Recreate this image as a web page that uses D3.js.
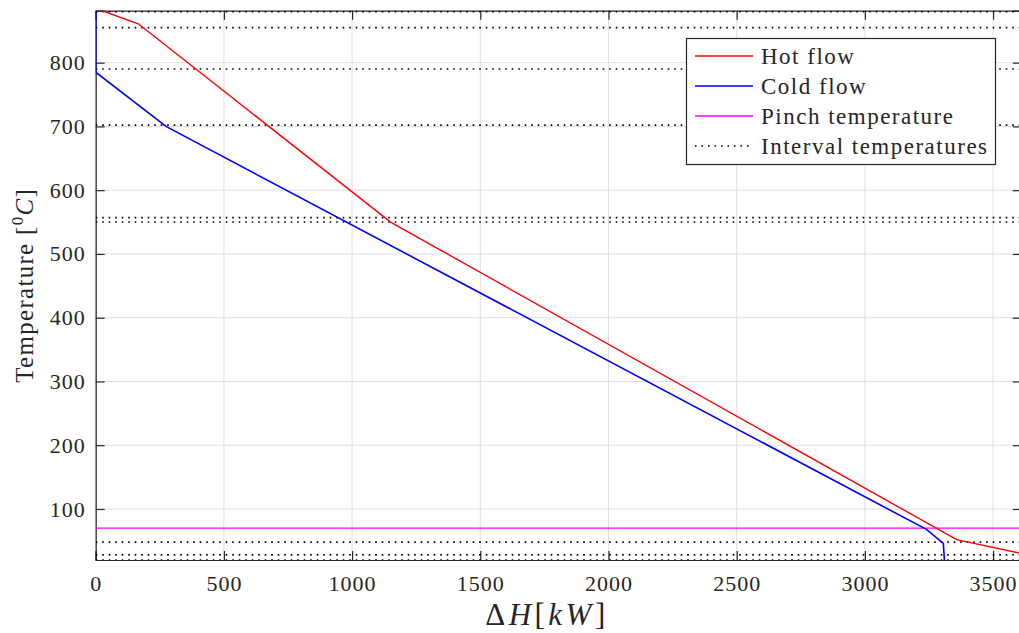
<!DOCTYPE html>
<html>
<head>
<meta charset="utf-8">
<script src="https://cdn.jsdelivr.net/npm/d3@7"></script>
<style>
  html, body { margin: 0; padding: 0; background: #fff; }
  svg { display: block; }
  text { font-family: "Liberation Serif", "DejaVu Serif", serif; fill: #262626; }
</style>
</head>
<body>
<svg id="chart" width="1019" height="633"></svg>
<script>
// Composite curves: enthalpy change ΔH [kW] vs temperature [°C]
const hotH   = [0, 166, 1150, 3358, 3612];
const hotT   = [885, 861, 550, 52, 30];
const coldH  = [0, 0, 274, 3240, 3306, 3310];
const coldT  = [880, 785, 700, 68, 46, 20];
const pinchT = 70;
const intervalT = [880, 855, 790, 702, 557, 550, 48, 28, 20];
const xTicks = [0, 500, 1000, 1500, 2000, 2500, 3000, 3500];
const yTicks = [100, 200, 300, 400, 500, 600, 700, 800];
const xDomain = [0, 3612];
const yDomain = [20, 881.5];
const legendLabels = ["Hot flow", "Cold flow", "Pinch temperature", "Interval temperatures"];

const svg = d3.select("#chart");
const L = 95.7, R = 1021.8, T = 10.7, B = 560;

const x = d3.scaleLinear().domain(xDomain).range([L, R]);
const y = d3.scaleLinear().domain(yDomain).range([B, T]);

const axisColor = "#262626";
const gridColor = "#dfdfdf";
const tickLen = 9;
const fontFam = '"Liberation Serif", "DejaVu Serif", serif';

svg.append("defs").append("clipPath").attr("id", "plotClip")
  .append("rect").attr("x", L).attr("y", T).attr("width", R - L).attr("height", B - T);

// grid
const grid = svg.append("g");
grid.selectAll("line.gx").data(xTicks).join("line")
  .attr("x1", d => x(d)).attr("x2", d => x(d)).attr("y1", T).attr("y2", B)
  .attr("stroke", gridColor).attr("stroke-width", 1);
grid.selectAll("line.gy").data(yTicks).join("line")
  .attr("y1", d => y(d)).attr("y2", d => y(d)).attr("x1", L).attr("x2", R)
  .attr("stroke", gridColor).attr("stroke-width", 1);

// axes box and inward ticks
const bottomAxis = d3.axisBottom(x).tickValues(xTicks).tickSize(-tickLen).tickPadding(tickLen + 6).tickFormat(d3.format("d"));
const topAxis = d3.axisTop(x).tickValues(xTicks).tickSize(-tickLen).tickFormat("");
const leftAxis = d3.axisLeft(y).tickValues(yTicks).tickSize(-tickLen).tickPadding(tickLen + 1).tickFormat(d3.format("d"));
const rightAxis = d3.axisRight(y).tickValues(yTicks).tickSize(-tickLen).tickFormat("");

function styleAxis(g) {
  g.attr("font-family", null).attr("font-size", null);
  g.select(".domain").attr("stroke", axisColor).attr("stroke-width", 1.2);
  g.selectAll(".tick line").attr("stroke", axisColor).attr("stroke-width", 1.2);
  g.selectAll(".tick text").attr("fill", "#262626").style("font-size", "22px")
    .style("letter-spacing", "1px").style("font-family", fontFam);
}
svg.append("g").attr("transform", `translate(0,${B})`).call(bottomAxis).call(styleAxis);
svg.append("g").attr("transform", `translate(0,${T})`).call(topAxis).call(styleAxis);
svg.append("g").attr("transform", `translate(${L},0)`).call(leftAxis).call(styleAxis);
svg.append("g").attr("transform", `translate(${R},0)`).call(rightAxis).call(styleAxis);

const plot = svg.append("g").attr("clip-path", "url(#plotClip)");

// interval temperatures
plot.selectAll("line.interval").data(intervalT).join("line")
  .attr("x1", L).attr("x2", R).attr("y1", d => y(d)).attr("y2", d => y(d))
  .attr("stroke", "#000").attr("stroke-width", 1.6).attr("stroke-dasharray", "1.6 4.9");

// pinch
plot.append("line").attr("x1", L).attr("x2", R).attr("y1", y(pinchT)).attr("y2", y(pinchT))
  .attr("stroke", "#ff00ff").attr("stroke-width", 1.4);

const line = d3.line().x(d => x(d[0])).y(d => y(d[1]));
plot.append("path").datum(d3.zip(hotH, hotT)).attr("d", line)
  .attr("fill", "none").attr("stroke", "#ff0000").attr("stroke-width", 1.4);
plot.append("path").datum(d3.zip(coldH, coldT)).attr("d", line)
  .attr("fill", "none").attr("stroke", "#0000ff").attr("stroke-width", 1.6);

// axis labels
const xl = svg.append("text").attr("x", 547).attr("y", 625).attr("text-anchor", "middle")
  .style("font-size", "31px").style("letter-spacing", "3.5px");
xl.append("tspan").text("Δ");
xl.append("tspan").attr("font-style", "italic").text("H");
xl.append("tspan").text("[");
xl.append("tspan").attr("font-style", "italic").text("kW");
xl.append("tspan").text("]");

const yl = svg.append("text").attr("transform", `translate(33,${(T + B) / 2}) rotate(-90)`)
  .attr("text-anchor", "middle").style("font-size", "25px").style("letter-spacing", "1.3px");
yl.append("tspan").text("Temperature [");
yl.append("tspan").attr("dy", -10).style("font-size", "17px").text("0");
yl.append("tspan").attr("dy", 10).attr("font-style", "italic").text("C");
yl.append("tspan").text("]");

// legend
const lg = svg.append("g");
lg.append("rect").attr("x", 686.5).attr("y", 38.5).attr("width", 309).attr("height", 126)
  .attr("fill", "#fff").attr("stroke", axisColor).attr("stroke-width", 1.2);
const legendStyles = [
  { color: "#ff0000", dash: null },
  { color: "#0000ff", dash: null },
  { color: "#ff00ff", dash: null },
  { color: "#000000", dash: "1.6 4.9" }
];
legendLabels.forEach((lab, i) => {
  const cy = 56 + i * 30;
  lg.append("line").attr("x1", 695).attr("x2", 753).attr("y1", cy).attr("y2", cy)
    .attr("stroke", legendStyles[i].color).attr("stroke-width", legendStyles[i].dash ? 1.6 : 1.4)
    .attr("stroke-dasharray", legendStyles[i].dash);
  lg.append("text").attr("x", 761).attr("y", cy + 8).style("font-size", "23px")
    .style("letter-spacing", "1.5px").text(lab);
});
</script>
</body>
</html>
